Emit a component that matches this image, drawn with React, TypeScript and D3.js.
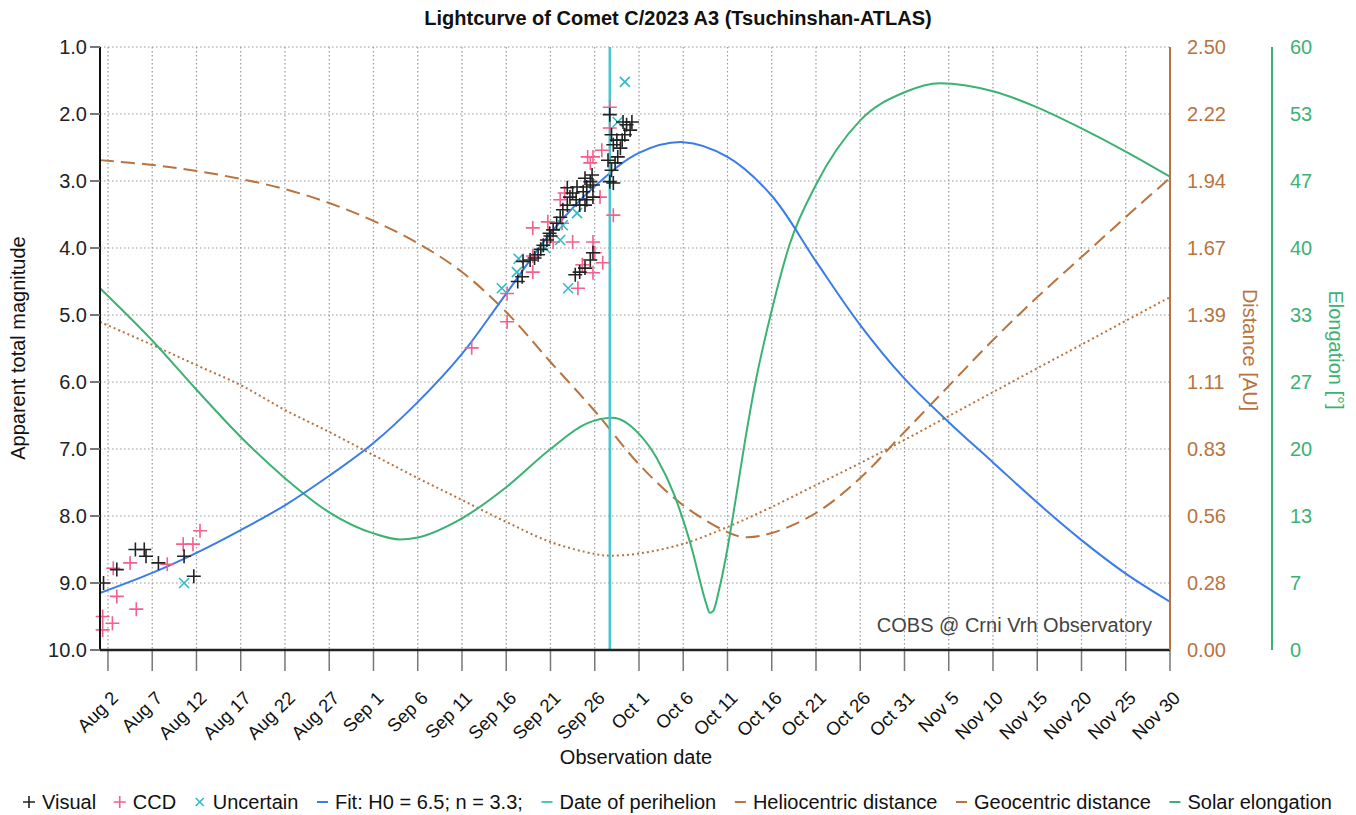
import * as d3 from 'd3'
import { useMemo } from 'react'

// [month, day (fractional), value]
type Row = [number, number, number]

const visualObs: Row[] = [
    [8, 1.5, 9.0], [8, 3.0, 8.8], [8, 5.1, 8.5], [8, 6.1, 8.5], [8, 6.3, 8.6], [8, 7.7, 8.7], [8, 10.6, 8.6], [8, 11.7, 8.9],
    [9, 17.3, 4.5], [9, 17.8, 4.43], [9, 17.9, 4.2], [9, 18.7, 4.18], [9, 19.2, 4.15], [9, 19.6, 4.1], [9, 20.2, 3.96],
    [9, 20.6, 3.88], [9, 20.9, 3.78], [9, 21.3, 3.73], [9, 21.7, 3.63], [9, 22.1, 3.54], [9, 22.4, 3.43], [9, 22.9, 3.36],
    [9, 23.2, 3.24], [9, 23.5, 3.18], [9, 22.9, 3.1], [9, 24.0, 3.09], [9, 24.7, 3.16], [9, 25.1, 3.09], [9, 25.5, 3.01],
    [9, 25.8, 3.06], [9, 24.3, 3.36], [9, 24.9, 3.36], [9, 25.1, 3.28], [9, 25.8, 3.24], [9, 24.9, 2.96], [9, 25.7, 2.91],
    [9, 23.8, 4.4], [9, 24.3, 4.36], [9, 24.9, 4.3], [9, 25.5, 4.18], [9, 25.8, 4.07], [9, 27.7, 3.01], [9, 28.1, 3.03],
    [9, 27.9, 2.84], [9, 28.3, 2.73], [9, 27.5, 2.69], [9, 28.1, 2.46], [9, 28.5, 2.39], [9, 29.1, 2.39], [9, 28.9, 2.51],
    [9, 27.7, 2.01], [9, 29.2, 2.12], [9, 29.6, 2.16], [9, 30.2, 2.12], [9, 30.0, 2.24], [9, 27.9, 2.31], [9, 29.4, 2.31],
    [9, 28.6, 2.64], [9, 19.9, 4.02], [9, 21.0, 3.82], [9, 23.9, 3.28],
]

const ccdObs: Row[] = [
    [8, 2.6, 8.78], [8, 4.5, 8.7], [8, 3.0, 9.2], [8, 5.2, 9.39], [8, 1.4, 9.5], [8, 2.5, 9.6], [8, 1.4, 9.7],
    [8, 8.7, 8.72], [8, 10.5, 8.42], [8, 11.6, 8.42], [8, 12.4, 8.22],
    [9, 12.1, 5.49], [9, 16.1, 5.1], [9, 16.1, 4.68], [9, 19.0, 4.36], [9, 19.0, 3.7], [9, 20.7, 3.61], [9, 21.3, 3.91],
    [9, 22.1, 3.28], [9, 22.6, 3.18], [9, 23.5, 3.91], [9, 24.1, 4.6], [9, 25.2, 2.64], [9, 25.8, 2.64], [9, 26.8, 2.54],
    [9, 25.5, 2.73], [9, 26.6, 3.24], [9, 25.8, 3.91], [9, 26.0, 4.07], [9, 26.9, 4.22], [9, 25.8, 4.37], [9, 28.1, 3.51],
    [9, 27.7, 1.9], [9, 27.7, 2.21], [9, 19.0, 4.12], [9, 22.3, 3.63], [9, 24.6, 4.25],
]

const uncertainObs: Row[] = [
    [8, 10.6, 9.0],
    [9, 15.5, 4.6], [9, 17.2, 4.36], [9, 17.4, 4.16], [9, 20.4, 4.0], [9, 22.1, 3.88], [9, 22.4, 3.66], [9, 24.0, 3.48],
    [9, 23.0, 4.6], [9, 29.4, 1.52], [9, 28.6, 2.12],
]

const fitMag: Row[] = [
    [8, 1.1, 9.15], [8, 7, 8.85], [8, 12, 8.55], [8, 17, 8.21], [8, 22, 7.84], [8, 27, 7.4], [9, 1, 6.91], [9, 6, 6.3],
    [9, 11, 5.58], [9, 16, 4.68], [9, 21, 3.78], [9, 26, 3.08], [10, 1, 2.58], [10, 6, 2.42], [10, 11, 2.64],
    [10, 16, 3.22], [10, 21, 4.2], [10, 26, 5.15], [10, 31, 5.95], [11, 5, 6.6], [11, 10, 7.2], [11, 15, 7.8],
    [11, 20, 8.36], [11, 25, 8.86], [11, 30, 9.28],
]

const helioDist: Row[] = [
    [8, 1.1, 1.36], [8, 7, 1.265], [8, 12, 1.181], [8, 17, 1.098], [8, 22, 0.995], [8, 27, 0.904], [9, 1, 0.808],
    [9, 6, 0.713], [9, 11, 0.622], [9, 16, 0.531], [9, 21, 0.448], [9, 26, 0.398], [9, 27.7, 0.391], [10, 1, 0.4],
    [10, 6, 0.44], [10, 11, 0.51], [10, 16, 0.593], [10, 21, 0.684], [10, 26, 0.775], [10, 31, 0.871], [11, 5, 0.97],
    [11, 10, 1.069], [11, 15, 1.168], [11, 20, 1.266], [11, 25, 1.365], [11, 30, 1.463],
]

const geoDist: Row[] = [
    [8, 1.1, 2.031], [8, 7, 2.011], [8, 12, 1.986], [8, 17, 1.953], [8, 22, 1.911], [8, 27, 1.853], [9, 1, 1.779],
    [9, 6, 1.687], [9, 11, 1.567], [9, 16, 1.401], [9, 21, 1.194], [9, 26, 0.991], [10, 1, 0.77], [10, 6, 0.6],
    [10, 11, 0.489], [10, 13, 0.468], [10, 16, 0.485], [10, 21, 0.568], [10, 26, 0.713], [10, 31, 0.904],
    [11, 5, 1.095], [11, 10, 1.285], [11, 15, 1.463], [11, 20, 1.629], [11, 25, 1.795], [11, 30, 1.957],
]

const solarElong: Row[] = [
    [8, 1.1, 36.0], [8, 7, 30.8], [8, 12, 25.9], [8, 17, 21.2], [8, 22, 17.1], [8, 27, 13.7], [9, 1, 11.6],
    [9, 4, 11.0], [9, 6, 11.2], [9, 11, 13.1], [9, 16, 16.2], [9, 21, 20.0], [9, 25, 22.5], [9, 28, 23.1],
    [10, 1, 21.5], [10, 3, 19.1], [10, 5, 15.4], [10, 6, 12.9], [10, 7, 10.0], [10, 8, 6.5], [10, 8.6, 4.6],
    [10, 9, 3.7], [10, 9.4, 3.9], [10, 10, 5.8], [10, 11, 10.1], [10, 12, 15.4], [10, 13, 20.9], [10, 14, 25.9],
    [10, 16, 33.8], [10, 18, 40.3], [10, 21, 46.3], [10, 26, 52.7], [10, 31, 55.5], [11, 4, 56.4], [11, 10, 55.6],
    [11, 15, 54.0], [11, 20, 51.9], [11, 25, 49.6], [11, 30, 47.1],
]

const perihelion: [number, number] = [9, 27.7]

const xTickLabels = ['Aug 2', 'Aug 7', 'Aug 12', 'Aug 17', 'Aug 22', 'Aug 27', 'Sep 1', 'Sep 6', 'Sep 11', 'Sep 16',
    'Sep 21', 'Sep 26', 'Oct 1', 'Oct 6', 'Oct 11', 'Oct 16', 'Oct 21', 'Oct 26', 'Oct 31', 'Nov 5', 'Nov 10',
    'Nov 15', 'Nov 20', 'Nov 25', 'Nov 30']
const magTicks = [1, 2, 3, 4, 5, 6, 7, 8, 9, 10]
const distTickLabels = ['0.00', '0.28', '0.56', '0.83', '1.11', '1.39', '1.67', '1.94', '2.22', '2.50']
const elongTickLabels = ['0', '7', '13', '20', '27', '33', '40', '47', '53', '60']

const legendItems = [
    { label: 'Visual', kind: 'plus', color: '#222' },
    { label: 'CCD', kind: 'plus', color: '#f2608c' },
    { label: 'Uncertain', kind: 'cross', color: '#2fb9c8' },
    { label: 'Fit: H0 = 6.5; n = 3.3;', kind: 'line', color: '#3a7de6' },
    { label: 'Date of perihelion', kind: 'line', color: '#49c6cc' },
    { label: 'Heliocentric distance', kind: 'line', color: '#b8733f' },
    { label: 'Geocentric distance', kind: 'line', color: '#b8733f' },
    { label: 'Solar elongation', kind: 'line', color: '#3bb273' },
]

const FONT = "'Liberation Sans', Arial, sans-serif"
const colours = {
    visual: '#222',
    ccd: '#f2608c',
    uncertain: '#2fb9c8',
    fit: '#3a7de6',
    peri: '#49c6cc',
    dist: '#b8733f',
    elong: '#3bb273',
    grid: '#999',
}

const toDate = (m: number, d: number) => new Date(Date.UTC(2023, m - 1, 1) + (d - 1) * 864e5)

const measure = (text: string, font: string) => {
    const ctx = document.createElement('canvas').getContext('2d')
    if (!ctx) return text.length * 9
    ctx.font = font
    return ctx.measureText(text).width
}

const App = () => {
    const svgWidth = 1356
    const svgHeight = 815
    const left = 100
    const right = 1170
    const top = 47
    const bottom = 650

    const x = useMemo(() => d3.scaleUtc().domain([toDate(8, 1.1), toDate(11, 30)]).range([left, right]), [])
    const yMag = useMemo(() => d3.scaleLinear().domain([1, 10]).range([top, bottom]), [])
    const yDist = useMemo(() => d3.scaleLinear().domain([0, 2.5]).range([bottom, top]), [])
    const yElong = useMemo(() => d3.scaleLinear().domain([0, 60]).range([bottom, top]), [])

    const parseTick = d3.utcParse('%b %d %Y')
    const xTicks = xTickLabels.map(l => ({ label: l, date: parseTick(l + ' 2023') as Date }))

    const lineOf = (rows: Row[], y: d3.ScaleLinear<number, number>, curve: d3.CurveFactory = d3.curveCatmullRom) =>
        d3.line<Row>()
            .x(d => x(toDate(d[0], d[1])))
            .y(d => y(d[2]))
            .curve(curve)(rows) ?? ''

    const periX = x(toDate(perihelion[0], perihelion[1]))

    const plus = (px: number, py: number, r = 7) => `M${px - r},${py}h${2 * r}M${px},${py - r}v${2 * r}`
    const cross = (px: number, py: number, r = 5) => `M${px - r},${py - r}l${2 * r},${2 * r}M${px - r},${py + r}l${2 * r},${-2 * r}`

    const fs = 20
    const legendFont = `${fs}px ${FONT}`
    const legend = useMemo(() => {
        const widths = legendItems.map(it => measure(it.label, legendFont))
        const markerW = 20
        const start = 22
        const end = 1332
        const total = widths.reduce((a, b) => a + b, 0) + markerW * legendItems.length
        const gap = (end - start - total) / (legendItems.length - 1)
        let cx = start
        return legendItems.map((it, i) => {
            const pos = cx
            cx += markerW + widths[i] + gap
            return { ...it, x: pos }
        })
    }, [])

    const legendY = 802

    return (
        <svg width={svgWidth} height={svgHeight} style={{ position: 'absolute', left: 0, top: 0, background: '#fff' }}
            fontFamily={FONT}>
            <rect width={svgWidth} height={svgHeight} fill="#fff" />
            <text x={678} y={25} textAnchor="middle" fontWeight="bold" fontSize={20} fill="#111">
                Lightcurve of Comet C/2023 A3 (Tsuchinshan-ATLAS)
            </text>

            {/* grid */}
            <g stroke={colours.grid} strokeWidth={1.2} strokeDasharray="1.5 2.5">
                {xTicks.map((t, i) => (
                    <line key={'gx' + i} x1={x(t.date)} x2={x(t.date)} y1={top} y2={bottom} />
                ))}
                {magTicks.map((m, i) => (
                    <line key={'gy' + i} x1={left} x2={right} y1={yMag(m)} y2={yMag(m)} />
                ))}
            </g>

            {/* model curves */}
            <path d={lineOf(helioDist, yDist)} fill="none" stroke={colours.dist} strokeWidth={2} strokeDasharray="2 3" />
            <path d={lineOf(geoDist, yDist)} fill="none" stroke={colours.dist} strokeWidth={2} strokeDasharray="14 7" />
            <path d={lineOf(solarElong, yElong, d3.curveMonotoneX)} fill="none" stroke={colours.elong} strokeWidth={2} />
            <path d={lineOf(fitMag, yMag)} fill="none" stroke={colours.fit} strokeWidth={2} />
            <line x1={periX} x2={periX} y1={top} y2={bottom} stroke={colours.peri} strokeWidth={2.5} />

            {/* observations */}
            <g fill="none" strokeWidth={1.6}>
                {ccdObs.map((d, i) => (
                    <path key={'c' + i} d={plus(x(toDate(d[0], d[1])), yMag(d[2]))} stroke={colours.ccd} />
                ))}
                {uncertainObs.map((d, i) => (
                    <path key={'u' + i} d={cross(x(toDate(d[0], d[1])), yMag(d[2]))} stroke={colours.uncertain} />
                ))}
                {visualObs.map((d, i) => (
                    <path key={'v' + i} d={plus(x(toDate(d[0], d[1])), yMag(d[2]))} stroke={colours.visual} />
                ))}
            </g>

            <text x={1152} y={632} textAnchor="end" fontSize={fs} fill="#444">COBS @ Crni Vrh Observatory</text>

            {/* left axis */}
            <line x1={left} x2={left} y1={top} y2={bottom} stroke="#111" strokeWidth={2} />
            {magTicks.map((m, i) => (
                <g key={'ym' + i}>
                    <line x1={left - 10} x2={left} y1={yMag(m)} y2={yMag(m)} stroke="#777" strokeWidth={2} />
                    <text x={left - 13} y={yMag(m)} dy="0.35em" textAnchor="end" fontSize={fs} fill="#222">
                        {m.toFixed(1)}
                    </text>
                </g>
            ))}
            <text transform={`translate(18,348) rotate(-90)`} dy="0.35em" textAnchor="middle" fontSize={fs} fill="#111">
                Apparent total magnitude
            </text>

            {/* bottom axis */}
            {xTicks.map((t, i) => (
                <g key={'xt' + i}>
                    <line x1={x(t.date)} x2={x(t.date)} y1={bottom} y2={bottom + 21} stroke="#777" strokeWidth={1.5} />
                    <text transform={`translate(${x(t.date) + 2},${bottom + 40}) rotate(-45)`} dy="0.71em"
                        textAnchor="end" fontSize={18.5} fill="#111">
                        {t.label}
                    </text>
                </g>
            ))}
            <line x1={left} x2={right} y1={bottom} y2={bottom} stroke="#222" strokeWidth={2.5} />
            <text x={636} y={764} textAnchor="middle" fontSize={fs} fill="#111">Observation date</text>

            {/* distance axis */}
            <line x1={right} x2={right} y1={top} y2={bottom} stroke={colours.dist} strokeWidth={2} />
            {distTickLabels.map((l, i) => (
                <text key={'yd' + i} x={1187} y={yDist((i * 2.5) / 9)} dy="0.35em" fontSize={fs} fill={colours.dist}>
                    {l}
                </text>
            ))}
            <text transform={`translate(1250,350) rotate(90)`} dy="0.35em" textAnchor="middle" fontSize={fs}
                fill={colours.dist}>
                Distance [AU]
            </text>

            {/* elongation axis */}
            <line x1={1272} x2={1272} y1={top} y2={bottom} stroke={colours.elong} strokeWidth={2} />
            {elongTickLabels.map((l, i) => (
                <text key={'ye' + i} x={1290} y={yElong((i * 60) / 9)} dy="0.35em" fontSize={fs} fill={colours.elong}>
                    {l}
                </text>
            ))}
            <text transform={`translate(1336,350) rotate(90)`} dy="0.35em" textAnchor="middle" fontSize={fs}
                fill={colours.elong}>
                Elongation [°]
            </text>

            {/* legend */}
            {legend.map((it, i) => (
                <g key={'lg' + i}>
                    {it.kind === 'plus' && (
                        <path d={plus(it.x + 7, legendY, 6)} stroke={it.color} strokeWidth={1.6} fill="none" />
                    )}
                    {it.kind === 'cross' && (
                        <path d={cross(it.x + 7, legendY, 4)} stroke={it.color} strokeWidth={1.6} fill="none" />
                    )}
                    {it.kind === 'line' && (
                        <line x1={it.x + 2} x2={it.x + 13} y1={legendY} y2={legendY} stroke={it.color} strokeWidth={2} />
                    )}
                    <text x={it.x + 20} y={legendY} dy="0.35em" fontSize={fs} fill="#111">{it.label}</text>
                </g>
            ))}
        </svg>
    )
}

export default App
